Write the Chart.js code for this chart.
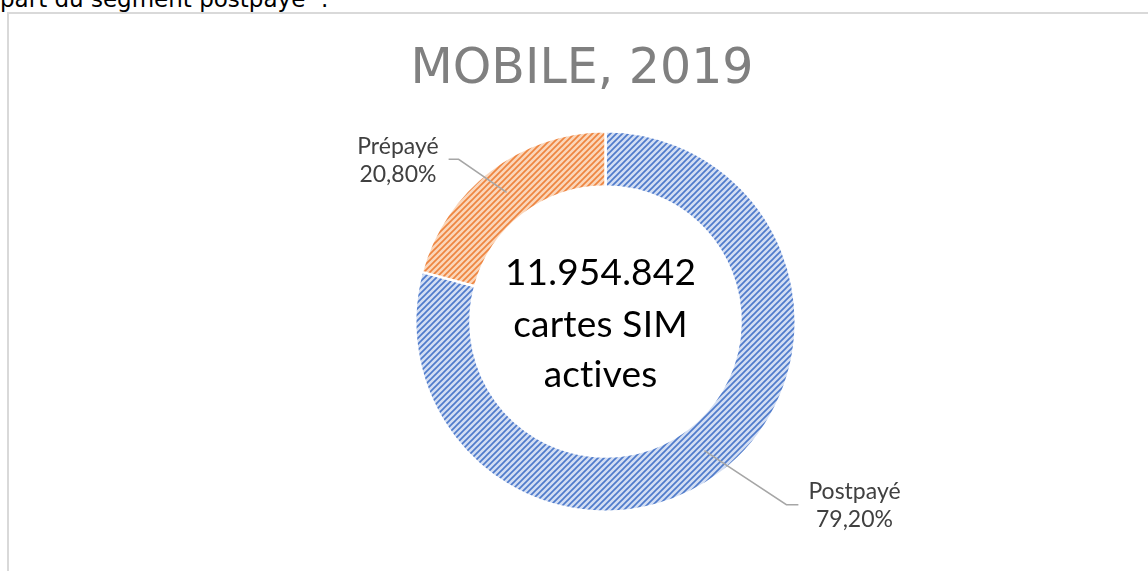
<!DOCTYPE html>
<html>
<head>
<meta charset="utf-8">
<script src="https://cdn.jsdelivr.net/npm/chart.js@4.4.1/dist/chart.umd.min.js"></script>
<style>
    html, body { margin: 0; padding: 0; background: #fff; overflow: hidden; }
    body { width: 1148px; height: 571px; position: relative; }
    #intro {
        position: absolute; left: 0; top: -14px; margin: 0;
        font-family: "DejaVu Sans", Verdana, sans-serif; font-size: 23px; color: #000;
        white-space: nowrap;
    }
    #frame {
        position: absolute; left: 7px; top: 12px; width: 1140px; height: 600px;
        border-left: 2px solid #d9d9d9; border-top: 2px solid #d9d9d9;
    }
    #wrap { position: absolute; left: 0; top: 0; width: 1148px; height: 571px; }
</style>
</head>
<body>
<p id="intro">part du segment postpayé <sup style="font-size:13px">1</sup>.</p>
<div id="frame"></div>
<div id="wrap"><canvas id="sim-chart"></canvas></div>
<script>
const chartTitle = 'MOBILE, 2019'
const segmentLabels = ['Postpayé', 'Prépayé']
const segmentValues = [79.20, 20.80]
const percentLabels = ['79,20%', '20,80%']
const centerLines = ['11.954.842', 'cartes SIM', 'actives']

function makeHatch(bg, stripe){
    const c = document.createElement('canvas')
    c.width = 6
    c.height = 6
    const g = c.getContext('2d')
    g.fillStyle = bg
    g.fillRect(0, 0, 6, 6)
    g.strokeStyle = stripe
    g.lineWidth = 1.7
    g.beginPath()
    g.moveTo(-1, 7); g.lineTo(7, -1)
    g.moveTo(-1, 1); g.lineTo(1, -1)
    g.moveTo(5, 7); g.lineTo(7, 5)
    g.stroke()
    return g.createPattern(c, 'repeat')
}

const blueHatch = makeHatch('#d3def3', '#4f7bcb')
const orangeHatch = makeHatch('#fad6ba', '#ee8540')

// leader line offsets (elbow, then short horizontal)
const leaderOffsets = [
    { dx: 82, dy: 54, h: 12 },
    { dx: -48, dy: -33, h: -10 }
]

const labelPlugin = {
    id: 'labelPlugin',
    afterDraw(chart){
        const ctx = chart.ctx
        const meta = chart.getDatasetMeta(0)

        // title
        ctx.save()
        ctx.font = '49px "DejaVu Sans", Verdana, sans-serif'
        ctx.fillStyle = '#808080'
        ctx.textAlign = 'center'
        ctx.textBaseline = 'alphabetic'
        ctx.fillText(chartTitle, 582, 83)
        ctx.restore()

        // center text
        const arc0 = meta.data[0]
        ctx.save()
        ctx.font = '37px Lato, "Open Sans", sans-serif'
        ctx.letterSpacing = '0.2px'
        ctx.fillStyle = '#000'
        ctx.textAlign = 'center'
        ctx.textBaseline = 'alphabetic'
        const offs = [-37, 15, 65]
        centerLines.forEach((line, i) => {
            ctx.fillText(line, arc0.x - 5, arc0.y + offs[i])
        })
        ctx.restore()

        // segment labels with leader lines
        meta.data.forEach((arc, i) => {
            const p = arc.getCenterPoint()
            const o = leaderOffsets[i]
            const ex = p.x + o.dx
            const ey = p.y + o.dy
            const hx = ex + o.h
            ctx.save()
            ctx.strokeStyle = '#a6a6a6'
            ctx.lineWidth = 1.5
            ctx.beginPath()
            ctx.moveTo(p.x, p.y)
            ctx.lineTo(ex, ey)
            ctx.lineTo(hx, ey)
            ctx.stroke()

            ctx.font = '23px Lato, "Open Sans", sans-serif'
            ctx.fillStyle = '#404040'
            ctx.textAlign = 'center'
            ctx.textBaseline = 'middle'
            const lines = [segmentLabels[i], percentLabels[i]]
            const w = Math.max(...lines.map(l => ctx.measureText(l).width))
            const cx = o.h > 0 ? hx + 10 + w / 2 : hx - 10 - w / 2
            ctx.fillText(lines[0], cx, ey - 13)
            ctx.fillText(lines[1], cx, ey + 15)
            ctx.restore()
        })
    }
}

const ctx = document.getElementById('sim-chart')
const myChart = new Chart(ctx, {
    type: 'doughnut',
    data: {
        labels: segmentLabels,
        datasets: [{
            data: segmentValues,
            backgroundColor: [blueHatch, orangeHatch],
            borderColor: '#ffffff',
            borderWidth: 2.5
        }]
    },
    options: {
        responsive: true,
        maintainAspectRatio: false,
        animation: false,
        cutout: '71%',
        layout: {
            padding: { top: 130, bottom: 58, left: 413, right: 350 }
        },
        plugins: {
            legend: { display: false },
            tooltip: { enabled: false },
            title: { display: false }
        }
    },
    plugins: [labelPlugin]
});
</script>
</body>
</html>
